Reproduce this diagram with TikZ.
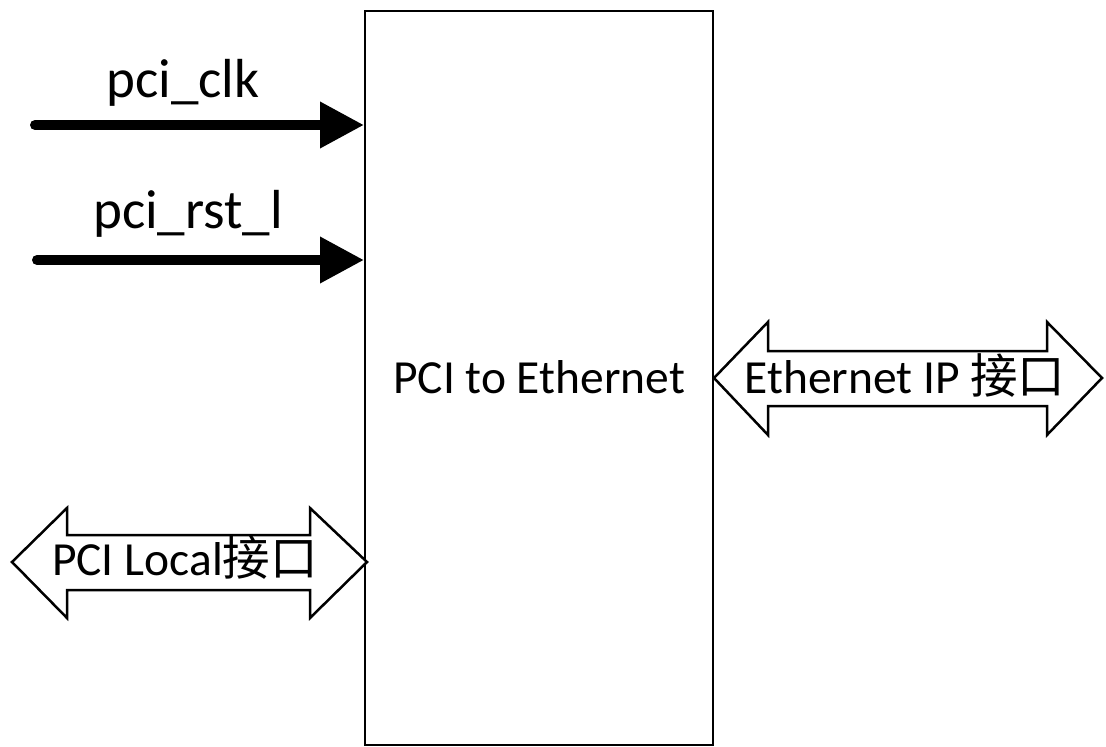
\documentclass[tikz,border=0pt]{standalone}
\usepackage{fontspec}
\setmainfont{Carlito}
\newfontfamily\cjk{Noto Sans CJK SC}
\usetikzlibrary{arrows.meta}
\tikzset{
  box/.style={draw=black, line width=2.5pt},
  sig/.style={line width=10pt, line cap=round, -{Triangle[length=44pt,width=44pt]}},
  blockarrow/.style={draw=black, line width=2.5pt, line join=miter, fill=white},
  lbl/.style={font=\fontsize{47.5}{52}\selectfont, inner sep=0pt, anchor=base},
  siglbl/.style={font=\fontsize{55}{60}\selectfont, inner sep=0pt, anchor=base},
}
\begin{document}
\begin{tikzpicture}[x=1pt,y=-1pt]
\useasboundingbox (0,0) rectangle (1106,747);
% main block
\draw[box] (365,11) rectangle (713,745);
\node[lbl] (title) at (539,393) {PCI to Ethernet};
% signals
\coordinate (clkS) at (35,125);
\coordinate (clkE) at (364,125);
\draw[sig] (clkS) -- (clkE);
\node[siglbl] (clk) at (183,97) {pci\_clk};
\coordinate (rstS) at (37,260);
\coordinate (rstE) at (364,260);
\draw[sig] (rstS) -- (rstE);
\node[siglbl] (rst) at (188,228) {pci\_rst\_l};
% PCI Local double arrow
\draw[blockarrow] (12,562) coordinate (plL) -- (67,508) -- (67,535) -- (310,535) -- (310,508)
  -- (367,562) coordinate (plR) -- (310,618) -- (310,590) -- (67,590) -- (67,618) -- cycle;
\node[lbl] (pcilocal) at (185,575) {PCI Local{\cjk 接口}};
% Ethernet IP double arrow
\draw[blockarrow] (714,378) coordinate (etL) -- (768,322) -- (768,351) -- (1047,351) -- (1047,322)
  -- (1102,378) coordinate (etR) -- (1047,435) -- (1047,406) -- (768,406) -- (768,435) -- cycle;
\node[lbl] (ethip) at (905,393) {Ethernet IP {\cjk 接口}};
\end{tikzpicture}
\end{document}
